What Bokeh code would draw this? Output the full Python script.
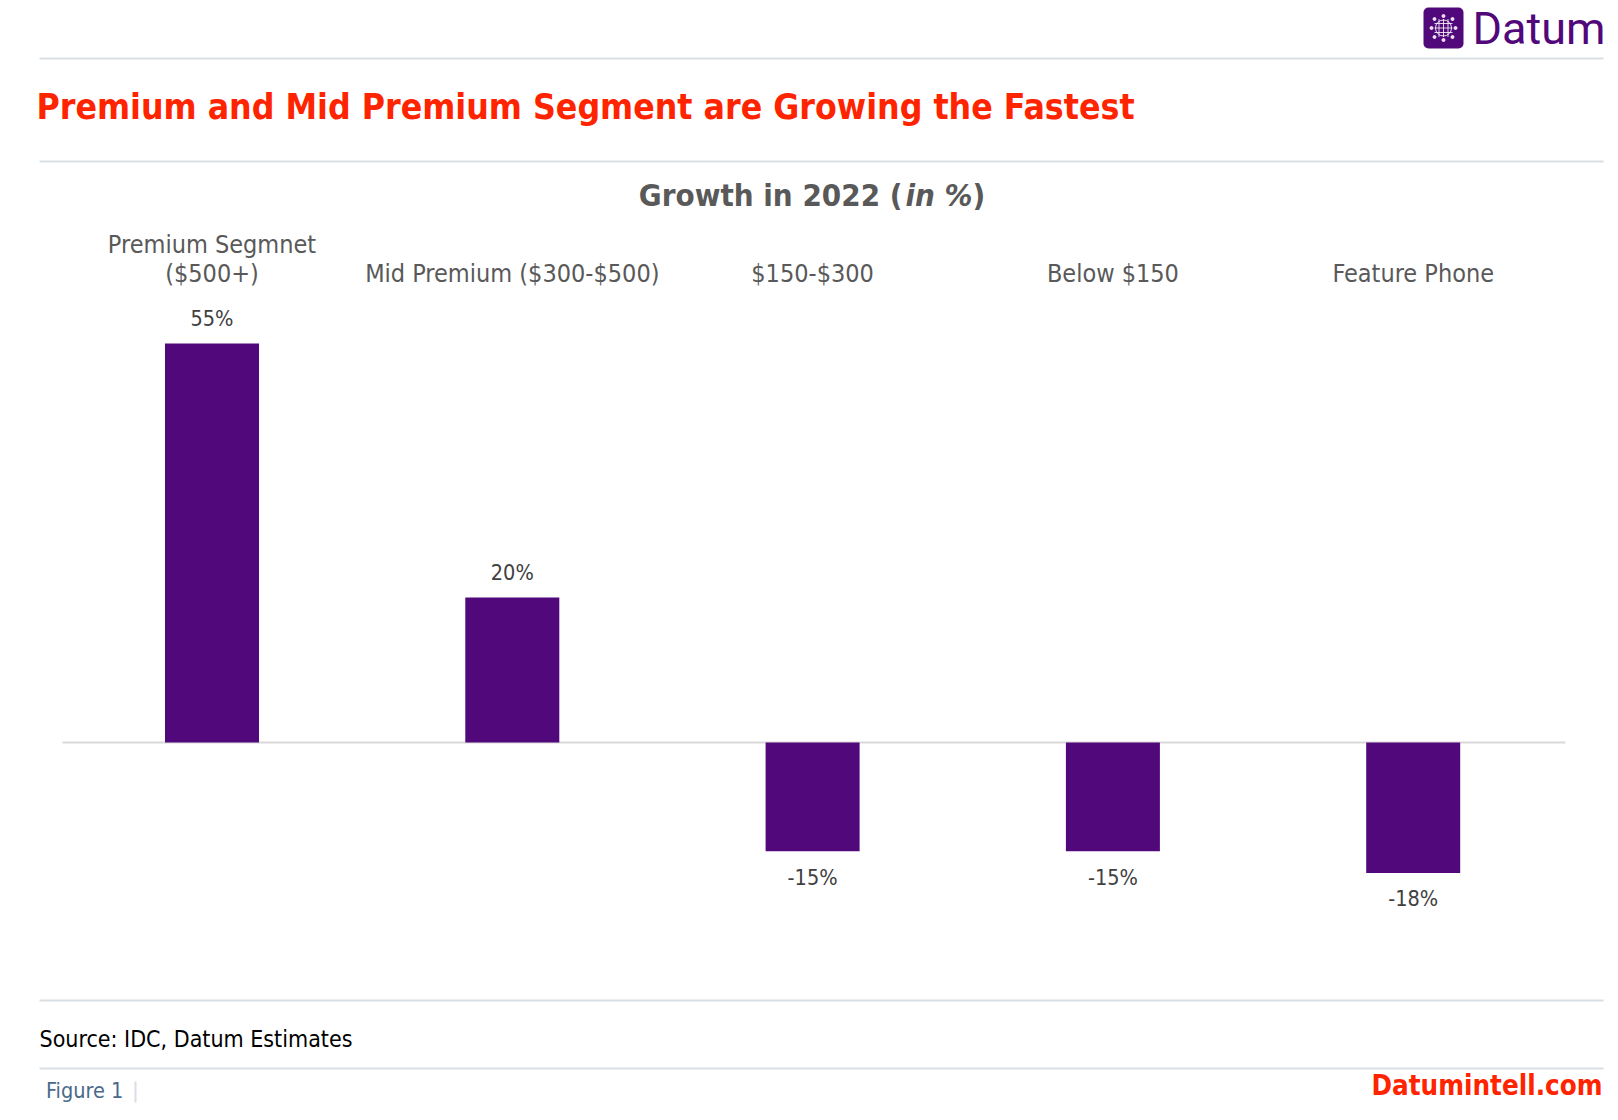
from bokeh.plotting import figure
from bokeh.models import Range1d, BoxAnnotation, ColumnDataSource
from bokeh.core.properties import value
from bokeh.embed import file_html
from bokeh.resources import INLINE

# ---------------- data ----------------
categories = ["Premium Segmnet\n($500+)", "Mid Premium ($300-$500)", "$150-$300", "Below $150", "Feature Phone"]
growth = [55, 20, -15, -15, -18]
value_labels = ["55%", "20%", "-15%", "-15%", "-18%"]

title_text = "Premium and Mid Premium Segment are Growing the Fastest"
source_text = "Source: IDC, Datum Estimates"

# ---------------- layout (screen pixels) ----------------
W, H = 1610, 1112
X0_PX, STEP_PX = 211.5, 300.3        # first category centre, spacing
ZERO_PX, PX_PER_UNIT = 742.0, 7.254  # zero line (from top), pixels per percent

FONT = "DejaVu Sans Condensed"
PURPLE = "#51087A"
RED = "#FF2400"
GRAY = "#595959"
LINE = "#DADFE3"

x_start = -X0_PX / STEP_PX
x_end = (W - X0_PX) / STEP_PX
y_start = -(H - ZERO_PX) / PX_PER_UNIT
y_end = ZERO_PX / PX_PER_UNIT


def px(x):
    return x_start + x / STEP_PX


def py(y):  # y measured from top in pixels
    return (ZERO_PX - y) / PX_PER_UNIT


p = figure(width=W, height=H, x_range=Range1d(x_start, x_end), y_range=Range1d(y_start, y_end),
           output_backend="svg", toolbar_location=None, min_border=0)
p.axis.visible = False
p.grid.visible = False
p.outline_line_color = None
p.background_fill_color = "white"
p.border_fill_color = "white"

# separators
for yy in [58, 161, 1000, 1068]:
    p.segment(x0=[px(39)], x1=[px(1603)], y0=[py(yy)], y1=[py(yy)], line_color=LINE, line_width=2)

# zero line
p.segment(x0=[px(62)], x1=[px(1565)], y0=[0], y1=[0], line_color="#D9D9D9", line_width=2)

# bars
idx = list(range(len(categories)))
src = ColumnDataSource(dict(x=idx, top=growth, cat=categories, lab=value_labels,
                            ly=[v + (3.4 if v >= 0 else -3.55) for v in growth]))
p.vbar(x="x", top="top", bottom=0, width=94 / STEP_PX, source=src, fill_color=PURPLE, line_color=None)

# value labels
p.text(x="x", y="ly", text="lab", source=src, text_align="center", text_baseline="middle",
       text_font=value(FONT), text_font_size="21.5px", text_color="#404040")

# category labels
p.text(x="x", y=py(287), text="cat", source=src, text_align="center", text_baseline="bottom",
       text_font=value(FONT), text_font_size="25px", text_color=GRAY, text_line_height=1.0)

# main title
p.text(x=[px(36)], y=[py(106)], text=[title_text], text_align="left", text_baseline="middle",
       text_font=value(FONT), text_font_size="35.3px", text_font_style="bold", text_color=RED)

# chart subtitle
sub_y = py(194)
p.text(x=[px(902)], y=[sub_y], text=["Growth in 2022 ("], text_align="right", text_baseline="middle",
       text_font=value(FONT), text_font_size="31px", text_font_style="bold", text_color=GRAY)
p.text(x=[px(905)], y=[sub_y], text=["in %"], text_align="left", text_baseline="middle",
       text_font=value(FONT), text_font_size="31px", text_font_style="bold italic", text_color=GRAY)
p.text(x=[px(972)], y=[sub_y], text=[")"], text_align="left", text_baseline="middle",
       text_font=value(FONT), text_font_size="31px", text_font_style="bold", text_color=GRAY)

# logo
p.add_layout(BoxAnnotation(left=px(1423), right=px(1463), top=py(7), bottom=py(48),
                           fill_color=PURPLE, fill_alpha=1, line_color=None, border_radius=5,
                           level="underlay"))
gcx, gcy = 1443, 27.5
p.circle(x=[px(gcx)], y=[py(gcy)], radius=8 / STEP_PX, fill_color=None, line_color="white",
         line_width=1, line_alpha=0.85)
for dy in [-4.5, 0, 4.5]:
    p.segment(x0=[px(gcx - 9)], x1=[px(gcx + 9)], y0=[py(gcy + dy)], y1=[py(gcy + dy)],
              line_color="white", line_width=1, line_alpha=0.8)
for dx in [-4.5, 0, 4.5]:
    p.segment(x0=[px(gcx + dx)], x1=[px(gcx + dx)], y0=[py(gcy - 9)], y1=[py(gcy + 9)],
              line_color="white", line_width=1, line_alpha=0.8)
p.scatter(x=[px(gcx - 12), px(gcx + 12), px(gcx), px(gcx), px(gcx - 9), px(gcx + 9), px(gcx - 9), px(gcx + 9)],
          y=[py(gcy), py(gcy), py(gcy - 12), py(gcy + 12), py(gcy - 9), py(gcy - 9), py(gcy + 9), py(gcy + 9)],
          size=3, color="white", alpha=0.85)
p.text(x=[px(1472)], y=[py(28)], text=["Datum"], text_align="left", text_baseline="middle",
       text_font=value("Roboto"), text_font_size="45px", text_color=PURPLE)

# footer
p.text(x=[px(39)], y=[py(1038)], text=[source_text], text_align="left", text_baseline="middle",
       text_font=value(FONT), text_font_size="23px", text_color="black")
p.text(x=[px(45.5)], y=[py(1090)], text=["Figure 1"], text_align="left", text_baseline="middle",
       text_font=value(FONT), text_font_size="21.5px", text_color="#4A6A88")
p.segment(x0=[px(135)], x1=[px(135)], y0=[py(1081)], y1=[py(1102)], line_color=LINE, line_width=2)
p.text(x=[px(1602)], y=[py(1084)], text=["Datumintell.com"], text_align="right", text_baseline="middle",
       text_font=value(FONT), text_font_size="27.5px", text_font_style="bold", text_color=RED)

open("out.html", "w").write(file_html(p, INLINE))
